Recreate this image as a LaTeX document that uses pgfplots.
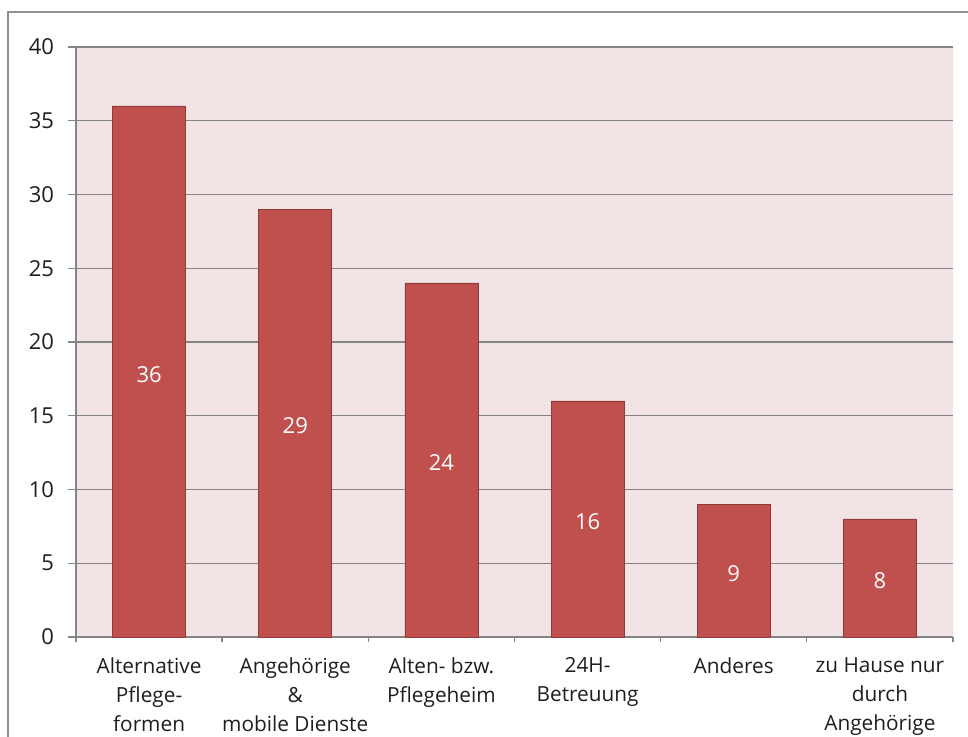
\documentclass[border=0pt]{standalone}
\usepackage{pgfplots}
\pgfplotsset{compat=1.18}
\usepackage{fontspec}
\setmainfont{Open Sans}
\definecolor{barred}{HTML}{C0504D}
\definecolor{baredge}{HTML}{8E3A38}
\definecolor{bgpink}{HTML}{F2E4E5}
\definecolor{gridgray}{HTML}{858585}
\definecolor{txt}{HTML}{1E1E1E}
\begin{document}
\begin{tikzpicture}
\path[use as bounding box] (-57pt,-75pt) rectangle (669pt,477.75pt);
\draw[color=gridgray!90, line width=1.1pt] (-51pt,-80pt) -- (-51pt,468.75pt) -- (680pt,468.75pt);
\begin{axis}[
  at={(0,0)}, anchor=south west,
  scale only axis,
  width=657.75pt, height=442.5pt,
  xmin=0.5, xmax=6.5, ymin=0, ymax=40,
  ytick={0,5,...,40},
  xtick={1,...,6},
  minor xtick={0.5,1.5,...,6.5},
  xticklabels={{Alternative\\Pflege-\\formen},{Angehörige\\\&\\mobile Dienste},{Alten- bzw.\\Pflegeheim},{24H-\\Betreuung},{Anderes},{zu Hause nur\\durch\\Angehörige}},
  axis lines=left,
  axis line style={draw=gridgray, line width=1pt, -},
  ymajorgrids,
  grid style={draw=gridgray, line width=1pt},
  major grid style={draw=gridgray, line width=1pt},
  tick align=outside,
  tick style={draw=gridgray, line width=1pt},
  major tick length=6pt,
  minor tick length=4pt,
  major x tick style={draw=none},
  axis background/.style={fill=bgpink},
  /pgf/number format/assume math mode=true,
  yticklabel style={font=\fontsize{16.5}{19}\selectfont, text=txt, anchor=east, xshift=-7pt},
  xticklabel style={font=\fontsize{15.6}{21.75}\selectfont, text=txt, align=center, anchor=north, yshift=-6pt},
  clip=false,
]
\addplot[ybar, bar width=54.75pt, fill=barred, draw=baredge, line width=0.6pt] coordinates {(1,36) (2,29) (3,24) (4,16) (5,9) (6,8)};
\addplot[draw=none, mark=none, nodes near coords, point meta=explicit symbolic,
  nodes near coords style={anchor=center, text=white, font=\fontsize{16.5}{19}\selectfont, yshift=-2pt}]
  coordinates {(1,18)[36] (2,14.5)[29] (3,12)[24] (4,8)[16] (5,4.5)[9] (6,4)[8]};
\end{axis}
\end{tikzpicture}
\end{document}
